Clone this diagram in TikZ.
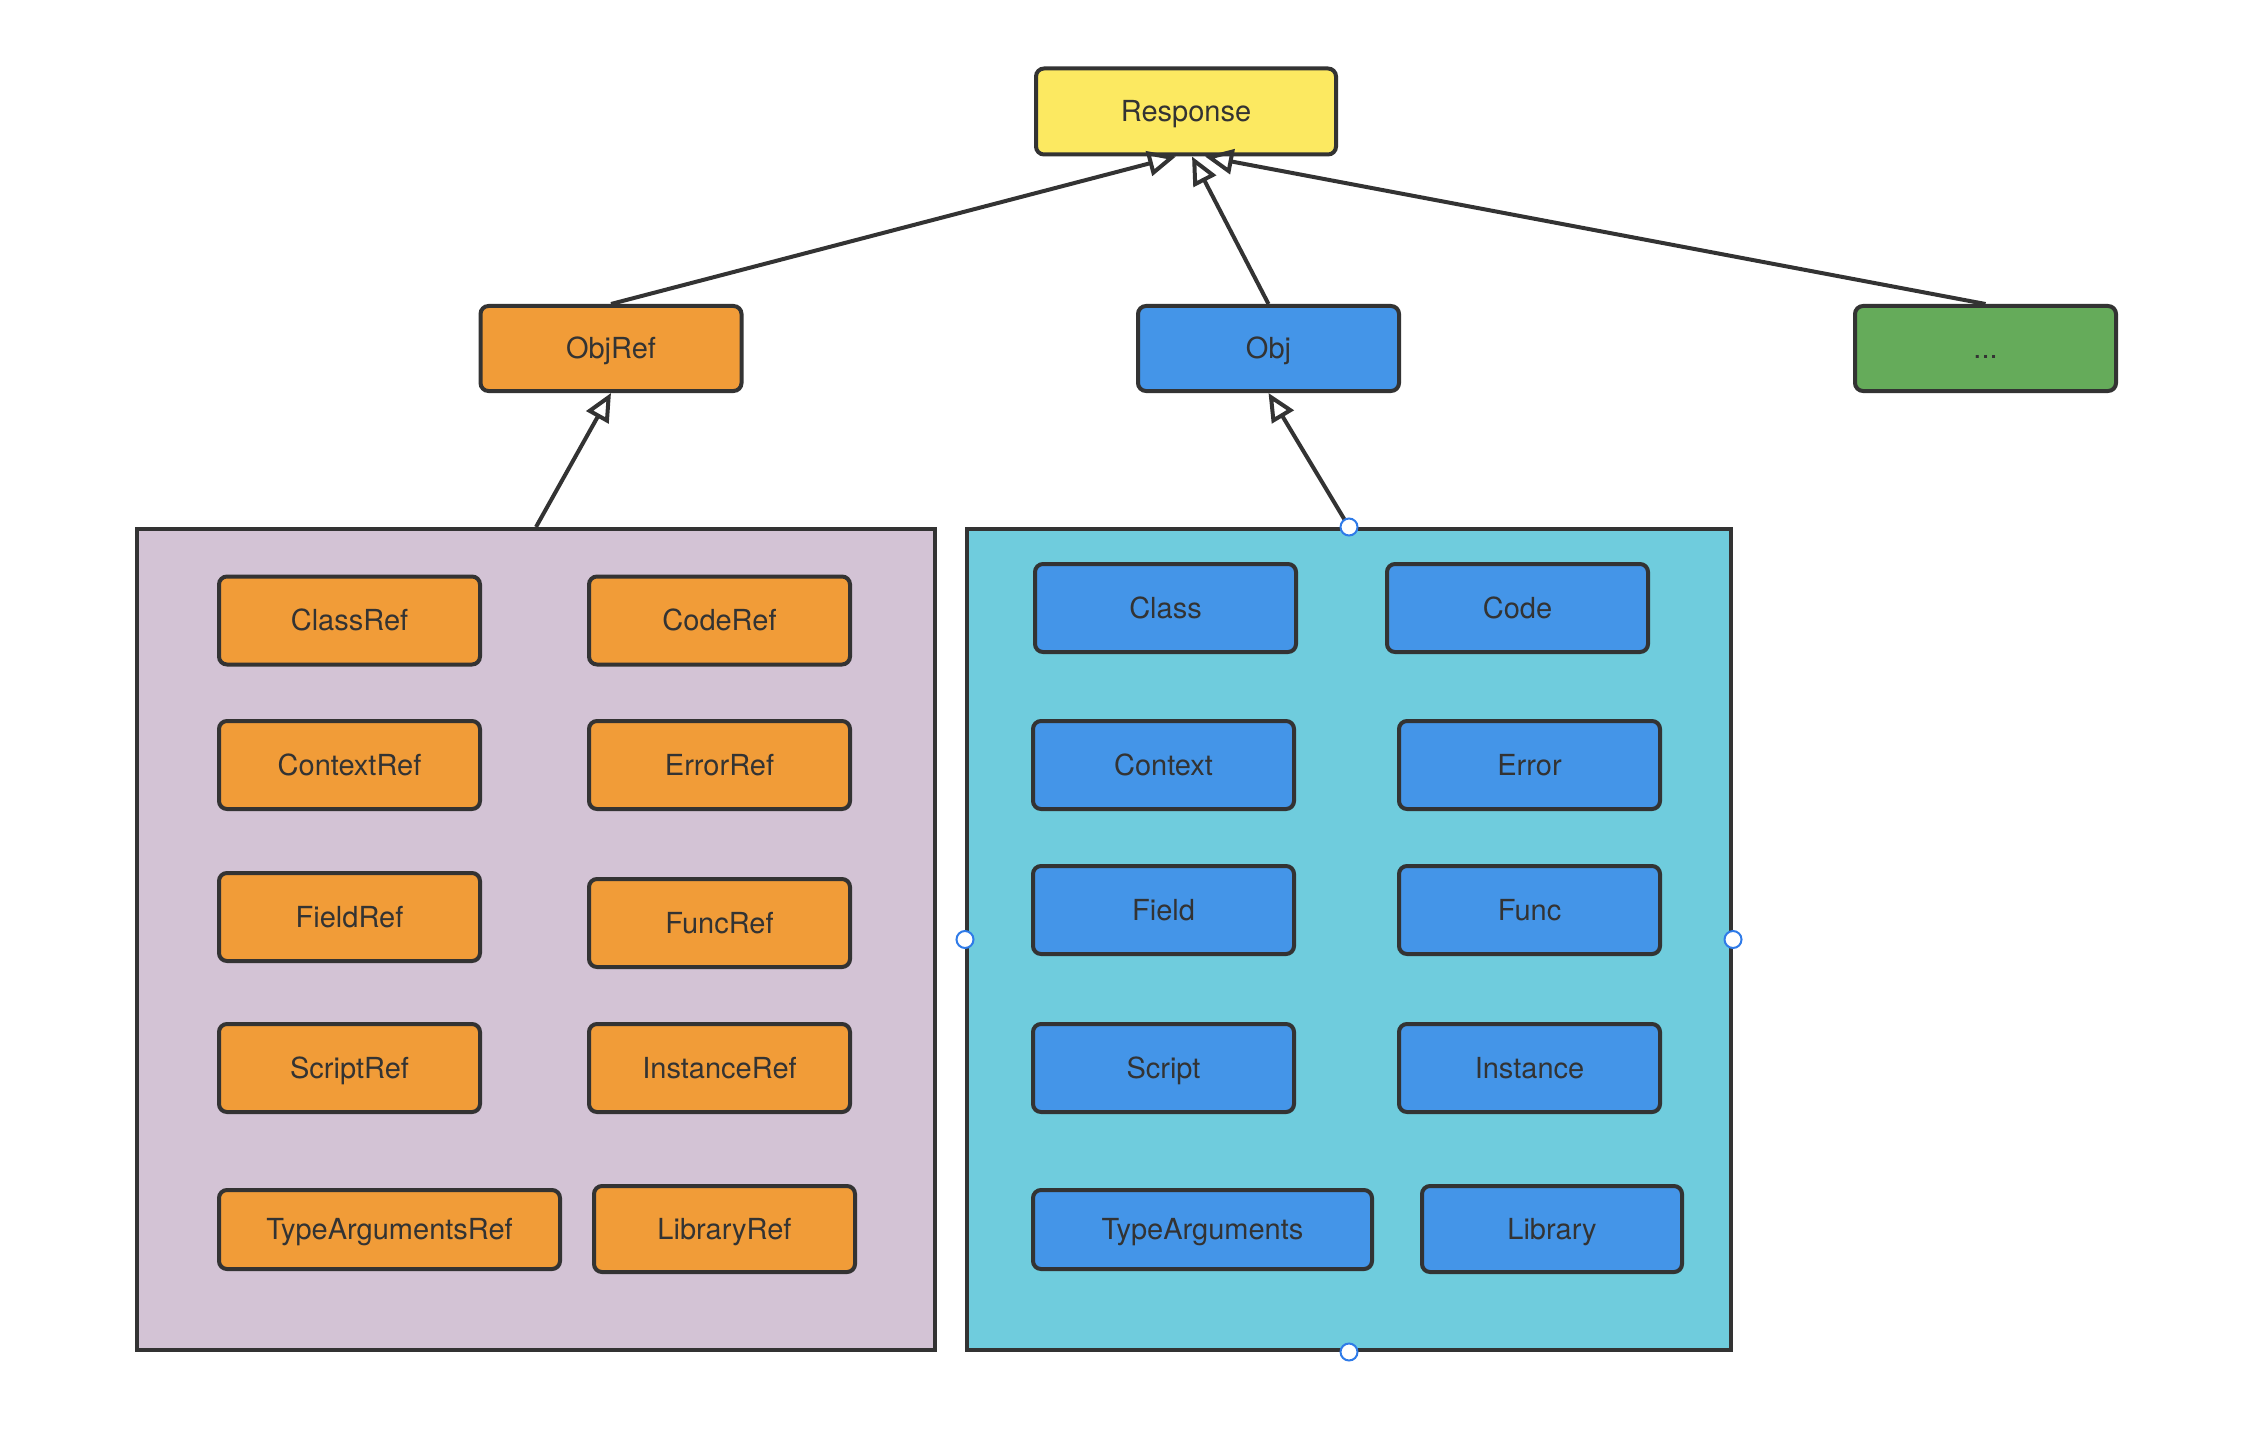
\documentclass[tikz,border=0pt]{standalone}
\usepackage{fontspec}
\setmainfont{TeX Gyre Heros}
\usepackage{xcolor}
\usepackage{tikz}
\usetikzlibrary{arrows.meta,calc}
\definecolor{edge}{HTML}{333333}
\definecolor{respfill}{HTML}{FCE961}
\definecolor{reffill}{HTML}{F19C38}
\definecolor{objfill}{HTML}{4495E8}
\definecolor{morefill}{HTML}{65AB5A}
\definecolor{lilac}{HTML}{D3C3D5}
\definecolor{cyanbg}{HTML}{6FCCDD}
\definecolor{handleblue}{HTML}{2F7BE8}

\begin{document}
\begin{tikzpicture}[x=0.5pt, y=-0.5pt,
  typebox/.style={rectangle, rounded corners=4pt, draw=edge, line width=2pt, minimum width=130.5pt, minimum height=44pt, inner sep=0pt, text height=13pt, text depth=3pt, text=edge, font=\fontsize{14.5}{17}\selectfont},
  refbox/.style={typebox, fill=reffill},
  objbox/.style={typebox, fill=objfill},
  groupbox/.style={rectangle, draw=edge, line width=2pt, minimum height=410.5pt, inner sep=0pt},
  inherit/.style={-{Triangle[open, length=14pt, width=12.5pt]}, draw=edge, line width=2pt},
  handle/.style={circle, draw=handleblue, fill=white, line width=1pt, minimum size=8.5pt, inner sep=0pt}
]
\useasboundingbox (0,0) rectangle (2262,1444);

% containers
\node[groupbox, fill=lilac, minimum width=399pt] (refgroup) at (536,939.5) {};
\node[groupbox, fill=cyanbg, minimum width=382pt] (objgroup) at (1349,939.5) {};

% top levels
\node[typebox, fill=respfill, minimum width=150pt, minimum height=43pt] (response) at (1186,111.5) {Response};
\node[refbox, minimum height=42.5pt] (objref) at (611,348.5) {ObjRef};
\node[objbox, minimum height=42.5pt] (obj) at (1268.5,348.5) {Obj};
\node[typebox, fill=morefill, minimum height=42.5pt] (more) at (1985.5,348.5) {...};

% ref types
\node[refbox] (classref) at (349.5,620.5) {ClassRef};
\node[refbox] (coderef) at (719.5,620.5) {CodeRef};
\node[refbox] (contextref) at (349.5,765) {ContextRef};
\node[refbox] (errorref) at (719.5,765) {ErrorRef};
\node[refbox] (fieldref) at (349.5,917) {FieldRef};
\node[refbox] (funcref) at (719.5,923) {FuncRef};
\node[refbox] (scriptref) at (349.5,1068) {ScriptRef};
\node[refbox] (instanceref) at (719.5,1068) {InstanceRef};
\node[refbox, minimum width=170.5pt, minimum height=39.5pt] (typeargsref) at (389.5,1229.5) {TypeArgumentsRef};
\node[refbox, minimum height=43pt] (libraryref) at (724.5,1229) {LibraryRef};

% obj types
\node[objbox] (class) at (1165.5,608) {Class};
\node[objbox] (code) at (1517.5,608) {Code};
\node[objbox] (context) at (1163.5,765) {Context};
\node[objbox] (error) at (1529.5,765) {Error};
\node[objbox] (field) at (1163.5,910) {Field};
\node[objbox] (func) at (1529.5,910) {Func};
\node[objbox] (script) at (1163.5,1068) {Script};
\node[objbox] (instance) at (1529.5,1068) {Instance};
\node[objbox, minimum width=169.5pt, minimum height=39.5pt] (typeargs) at (1202.5,1229.5) {TypeArguments};
\node[objbox, minimum width=130pt, minimum height=43pt] (library) at (1552,1229) {Library};

% inheritance
\draw[inherit] (objref.north) -- ([xshift=-5pt]response.south);
\draw[inherit] (obj.north) -- ([xshift=3pt]response.south);
\draw[inherit] (more.north) -- ([xshift=9.5pt]response.south);
\draw[inherit] (refgroup.north) -- (objref.south);
\draw[inherit] (objgroup.north) -- (obj.south);

% selection handles
\node[handle] (hn) at (objgroup.north) {};
\node[handle] (hs) at (objgroup.south) {};
\node[handle] (hw) at (objgroup.west) {};
\node[handle] (he) at (objgroup.east) {};
\end{tikzpicture}
\end{document}
